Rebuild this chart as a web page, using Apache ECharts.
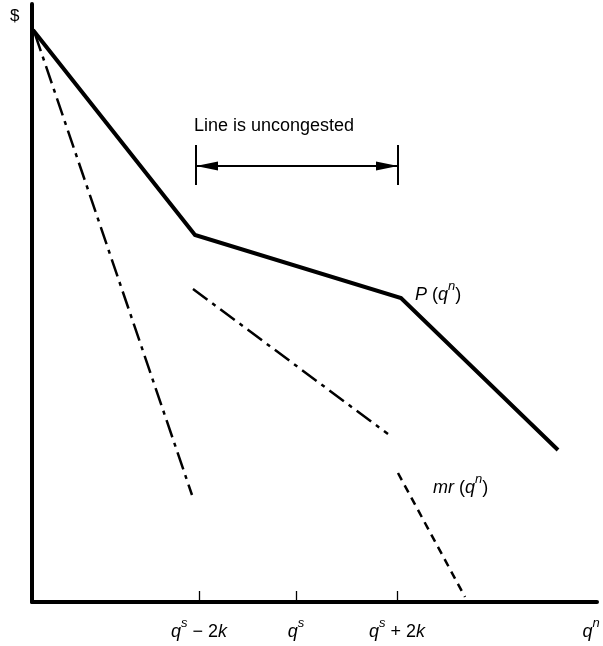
<!DOCTYPE html>
<html><head><meta charset="utf-8">
<script src="https://cdn.jsdelivr.net/npm/echarts@6/dist/echarts.min.js"></script>
<style>html,body{margin:0;padding:0;background:#fff}#c{width:603px;height:646px}</style>
</head><body><div id="c"></div>
<script>
// Schematic chart: units are arbitrary quantity ($ vs q^n)
const xRange = [0, 565];
const yRange = [0, 598];
const priceCurve = [[1, 572], [163, 367], [369, 304], [526, 152]];
const mrLeft = [[3, 568], [160, 107]];
const mrMiddle = [[161, 313], [356, 168]];
const mrRight = [[366, 129], [433, 5]];
const tickValues = [167, 264, 365];
const axisNameValue = 559;
const tickLabels = {
  167: [['i', 'q'], ['s', 's'], ['n', ' \u2212 2'], ['i', 'k']],
  264: [['i', 'q'], ['s', 's']],
  365: [['i', 'q'], ['s', 's'], ['n', ' + 2'], ['i', 'k']],
  559: [['i', 'q'], ['s', 'n']]
};
const barPositions = [164, 366];
const arrowSpan = [175, 355];
const arrowLevel = 436;
const barSpan = [417, 457];
const annotationText = 'Line is uncongested';
const annotationAt = [162, 476];
const pLabel = [['i', 'P'], ['n', ' ('], ['i', 'q'], ['s', 'n'], ['n', ')']];
const pLabelAt = [383, 310];
const mrLabel = [['i', 'mr'], ['n', ' ('], ['i', 'q'], ['s', 'n'], ['n', ')']];
const mrLabelAt = [401, 117];

const FONT = '"Liberation Sans", Arial, sans-serif';
const rich = {
  i: { fontSize: 18, fontStyle: 'italic', fontFamily: FONT, color: '#000', verticalAlign: 'bottom' },
  n: { fontSize: 18, fontFamily: FONT, color: '#000', verticalAlign: 'bottom' },
  s: { fontSize: 13, fontStyle: 'italic', fontFamily: FONT, color: '#000', verticalAlign: 'bottom', padding: [0, 0, 11, 0] }
};
const toRich = tokens => tokens.map(t => '{' + t[0] + '|' + t[1] + '}').join('');

const chart = echarts.init(document.getElementById('c'), null, { renderer: 'canvas' });
const black = '#000';
const labelSeries = (name, point, text, extra) => ({
  type: 'scatter', name, data: [point], symbolSize: 0, silent: true,
  label: Object.assign({ show: true, position: 'right', distance: 0, formatter: text, rich, color: black, opacity: 1 }, extra || {})
});

chart.setOption({
  animation: false,
  backgroundColor: '#fff',
  grid: { left: 32, right: 6, top: 4, bottom: 44 },
  xAxis: {
    type: 'value', min: xRange[0], max: xRange[1],
    axisLine: { show: true, lineStyle: { color: black, width: 4 } },
    splitLine: { show: false },
    axisTick: { show: true, inside: true, length: 11, customValues: tickValues, lineStyle: { color: black, width: 1.3 } },
    axisLabel: {
      customValues: tickValues.concat([axisNameValue]),
      formatter: v => toRich(tickLabels[Math.round(v)] || []),
      margin: 15, rich
    }
  },
  yAxis: {
    type: 'value', min: yRange[0], max: yRange[1],
    axisLine: { show: true, lineStyle: { color: black, width: 4 } },
    splitLine: { show: false }, axisTick: { show: false }, axisLabel: { show: false }
  },
  graphic: [{ type: 'text', left: 10, top: 8, style: { text: '$', font: '17px ' + FONT, fill: black } }],
  series: [
    { type: 'line', name: 'P', data: priceCurve, symbol: 'none', clip: false, silent: true,
      lineStyle: { color: black, width: 4, join: 'miter' } },
    { type: 'line', name: 'mrLeft', data: mrLeft, symbol: 'none', clip: false, silent: true,
      lineStyle: { color: black, width: 2.5, type: [18, 6, 4, 6] } },
    { type: 'line', name: 'mrMiddle', data: mrMiddle, symbol: 'none', clip: false, silent: true,
      lineStyle: { color: black, width: 2.5, type: [18, 6, 4, 6] } },
    { type: 'line', name: 'mrRight', data: mrRight, symbol: 'none', clip: false, silent: true,
      lineStyle: { color: black, width: 2.5, type: [8, 6] } },
    { type: 'line', name: 'annot', data: [], silent: true,
      markLine: {
        silent: true, animation: false, label: { show: false },
        lineStyle: { color: black, width: 2, type: 'solid' },
        data: [
          [{ coord: [arrowSpan[0], arrowLevel], symbol: 'triangle', symbolSize: [9, 22] },
           { coord: [arrowSpan[1], arrowLevel], symbol: 'triangle', symbolSize: [9, 22] }],
          [{ coord: [barPositions[0], barSpan[0]], symbol: 'none' }, { coord: [barPositions[0], barSpan[1]], symbol: 'none' }],
          [{ coord: [barPositions[1], barSpan[0]], symbol: 'none' }, { coord: [barPositions[1], barSpan[1]], symbol: 'none' }],
          [{ coord: [barPositions[0], arrowLevel], symbol: 'none' }, { coord: [barPositions[1], arrowLevel], symbol: 'none' }]
        ]
      } },
    labelSeries('annotText', annotationAt, annotationText, { fontSize: 18, fontFamily: FONT }),
    labelSeries('pLabel', pLabelAt, toRich(pLabel)),
    labelSeries('mrLabel', mrLabelAt, toRich(mrLabel))
  ]
});
</script></body></html>
